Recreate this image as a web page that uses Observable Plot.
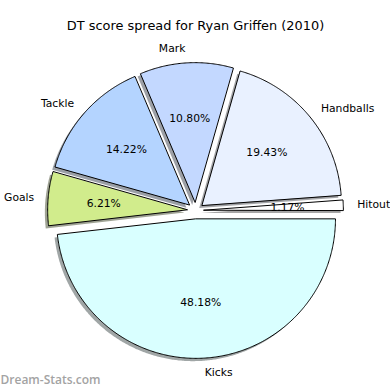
<!DOCTYPE html>
<html>
<head>
<meta charset="utf-8">
<script src="https://cdn.jsdelivr.net/npm/d3@7"></script>
<script src="https://cdn.jsdelivr.net/npm/@observablehq/plot@0.6"></script>
<style>
  html, body { margin: 0; padding: 0; background: #fff; }
</style>
</head>
<body>
<div id="chart"></div>
<script>
// ---- data (clockwise from 0° / 3 o'clock) ----
const categories = ["Kicks", "Goals", "Tackle", "Mark", "Handballs", "Hitout"];
const shares = [48.18, 6.21, 14.22, 10.80, 19.43, 1.17];
const sliceColors = ["#d9ffff", "#d1ec8c", "#b4d4ff", "#c3d8ff", "#e9f1ff", "#ffffff"];
const explodeBy = [0.06, 0.06, 0.06, 0.06, 0.06, 0.06];
const pctLabels = ["48.18%", "6.21%", "14.22%", "10.80%", "19.43%", "1.17%"];
const title = "DT score spread for Ryan Griffen (2010)";
const watermark = "Dream-Stats.com";

// ---- geometry in data units (radius = 1) ----
const total = d3.sum(shares);
const rad = Math.PI / 180;
const wedges = [];
const shadows = [];
const labelsL = [], labelsR = [], pcts = [];
let a = 0;
categories.forEach((cat, i) => {
  const sweep = 360 * shares[i] / total;
  const t1 = a, t2 = a - sweep;
  const mid = (t1 + t2) / 2;
  const cx = explodeBy[i] * Math.cos(mid * rad);
  const cy = explodeBy[i] * Math.sin(mid * rad);
  const n = Math.max(2, Math.ceil(sweep / 0.5));
  const pts = [{x: cx, y: cy}];
  for (let k = 0; k <= n; k++) {
    const t = (t1 + (t2 - t1) * k / n) * rad;
    pts.push({x: cx + Math.cos(t), y: cy + Math.sin(t)});
  }
  const base = d3.rgb(sliceColors[i]);
  const sh = d3.rgb(base.r * 0.3, base.g * 0.3, base.b * 0.3).formatHex();
  pts.forEach(p => {
    wedges.push({cat, x: p.x, y: p.y, fill: sliceColors[i]});
    shadows.push({cat, x: p.x - 0.02, y: p.y - 0.02, fill: sh});
  });
  const lx = cx + 1.1 * Math.cos(mid * rad), ly = cy + 1.1 * Math.sin(mid * rad);
  (lx > 0 ? labelsL : labelsR).push({x: lx, y: ly, text: cat});
  pcts.push({x: cx + 0.6 * Math.cos(mid * rad), y: cy + 0.6 * Math.sin(mid * rad), text: pctLabels[i]});
  a = t2;
});

// pixel frame: pie centre at (195, 210), radius 139.5 px
const W = 390, H = 390, R = 139.5, CX = 195, CY = 210;
const font = "DejaVu Sans";

const plot = Plot.plot({
  width: W, height: H, margin: 0,
  x: {domain: [-CX / R, (W - CX) / R], range: [0, W], axis: null},
  y: {domain: [-(H - CY) / R, CY / R], range: [H, 0], axis: null},
  color: {type: "identity"},
  style: {background: "#fff", overflow: "visible"},
  marks: [
    Plot.line(shadows, {x: "x", y: "y", z: "cat", fill: "fill", fillOpacity: 0.5, stroke: null, curve: "linear-closed"}),
    Plot.line(wedges, {x: "x", y: "y", z: "cat", fill: "fill", stroke: "#000", strokeWidth: 1, strokeLinejoin: "miter", curve: "linear-closed"}),
    Plot.text(labelsL, {x: "x", y: "y", text: "text", textAnchor: "start", lineAnchor: "middle", fontSize: 10.75, fontFamily: font, fill: "#000"}),
    Plot.text(labelsR, {x: "x", y: "y", text: "text", textAnchor: "end", lineAnchor: "middle", fontSize: 10.75, fontFamily: font, fill: "#000"}),
    Plot.text(pcts, {x: "x", y: "y", text: "text", textAnchor: "middle", lineAnchor: "middle", fontSize: 10.75, fontFamily: font, fill: "#000"}),
    Plot.text([title], {frameAnchor: "top", dy: 25, lineAnchor: "middle", fontSize: 12.9, fontFamily: font, fill: "#000"}),
    Plot.text([watermark], {frameAnchor: "bottom-left", dx: 0, dy: -10, textAnchor: "start", lineAnchor: "middle", fontSize: 12, fontWeight: 600, fontFamily: "Open Sans", fill: "#a3a3a3"})
  ]
});
document.getElementById("chart").appendChild(plot);
</script>
</body>
</html>
